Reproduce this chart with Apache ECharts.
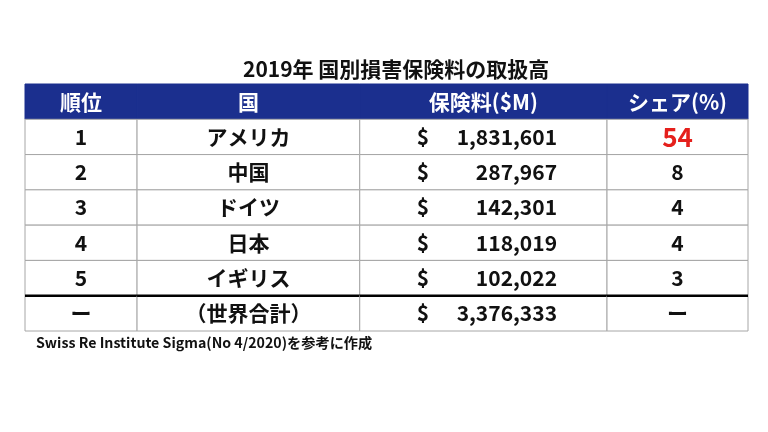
<!DOCTYPE html>
<html>
<head>
<meta charset="utf-8">
<script src="https://cdn.jsdelivr.net/npm/echarts@6/dist/echarts.min.js"></script>
<style>
  html, body { margin: 0; padding: 0; background: #fff; }
  #main { width: 768px; height: 432px; }
</style>
</head>
<body>
<div id="main"></div>
<script>
// 表のデータ
const headers = ['順位', '国', '保険料($M)', 'シェア(%)'];
const ranks = ['1', '2', '3', '4', '5', 'ー'];
const countries = ['アメリカ', '中国', 'ドイツ', '日本', 'イギリス', '（世界合計）'];
const premiums = [1831601, 287967, 142301, 118019, 102022, 3376333];
const shares = ['54', '8', '4', '4', '3', 'ー'];
const rowLabels = ['header', 'r1', 'r2', 'r3', 'r4', 'r5', 'total'];

// 列の区切り(0〜100)
const colEdges = [0, 15.5, 46.3, 80.5, 100];

const FONT = '"Noto Sans CJK JP", "Noto Sans", sans-serif';
const BLUE = '#1b2f8e';

const myChart = echarts.init(document.getElementById('main'));

// セルデータ [列, 行]
const cells = [];
headers.forEach((h, c) => cells.push({ value: [c, 0], text: h }));
ranks.forEach((r, i) => {
  cells.push({ value: [0, i + 1], text: r });
  cells.push({ value: [1, i + 1], text: countries[i] });
  cells.push({ value: [2, i + 1], text: premiums[i].toLocaleString('en-US') });
  cells.push({ value: [3, i + 1], text: shares[i] });
});

function renderItem(params, api) {
  const c = api.value(0);
  const r = api.value(1);
  const item = cells[params.dataIndex];
  const p0 = api.coord([colEdges[c], r]);
  const p1 = api.coord([colEdges[c + 1], r]);
  const h = api.size([0, 1])[1];
  const x = p0[0], w = p1[0] - p0[0];
  const y = p0[1] - h / 2;
  const cy = p0[1];
  const isHead = r === 0;
  const children = [{
    type: 'rect',
    shape: { x: x, y: y, width: w, height: h },
    style: {
      fill: isHead ? BLUE : '#fff',
      stroke: isHead ? BLUE : '#a6a6a6',
      lineWidth: 1
    }
  }];
  const baseStyle = {
    font: 'bold 21px ' + FONT,
    fill: isHead ? '#fff' : '#111',
    textVerticalAlign: 'middle',
    textAlign: 'center'
  };
  if (!isHead && c === 2) {
    children.push({
      type: 'text',
      style: Object.assign({}, baseStyle, { text: '$', x: x + 57, y: cy, textAlign: 'left' })
    });
    children.push({
      type: 'text',
      style: Object.assign({}, baseStyle, { text: item.text, x: x + w - 50, y: cy, textAlign: 'right' })
    });
  } else {
    const st = Object.assign({}, baseStyle, { text: item.text, x: x + w / 2, y: cy });
    if (r === 1 && c === 3) {
      st.fill = '#e5201c';
      st.font = 'bold 26px ' + FONT;
    }
    children.push({ type: 'text', style: st });
  }
  if (r === rowLabels.length - 1) {
    children.push({
      type: 'line',
      shape: { x1: x, y1: y, x2: x + w, y2: y },
      style: { stroke: '#000', lineWidth: 2.5 }
    });
  }
  return { type: 'group', children: children };
}

myChart.setOption({
  animation: false,
  title: [
    {
      text: '2019年 国別損害保険料の取扱高',
      left: 238,
      top: 54,
      textStyle: { fontFamily: FONT, fontWeight: 'bold', fontSize: 21, color: '#111' }
    },
    {
      text: 'Swiss Re Institute Sigma(No 4/2020)を参考に作成',
      left: 31,
      top: 331,
      textStyle: { fontFamily: FONT, fontWeight: 'bold', fontSize: 14.2, color: '#111' }
    }
  ],
  grid: { left: 25, right: 20, top: 84, bottom: 101 },
  xAxis: { type: 'value', min: 0, max: 100, show: false },
  yAxis: { type: 'category', data: rowLabels, inverse: true, show: false },
  series: [{
    type: 'custom',
    renderItem: renderItem,
    data: cells,
    clip: false
  }]
});
</script>
</body>
</html>
